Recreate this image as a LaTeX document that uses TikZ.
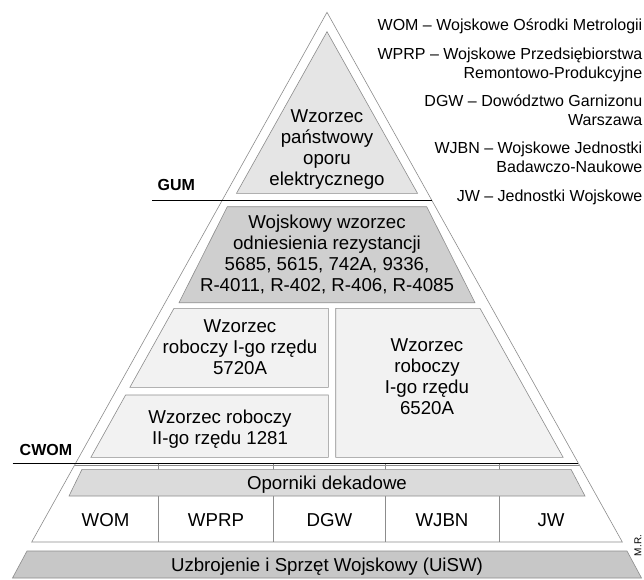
\documentclass[tikz,border=0pt]{standalone}
\usepackage{fontspec}
\setmainfont{Liberation Sans}
\usetikzlibrary{positioning}

\definecolor{edgegray}{gray}{0.55}
\definecolor{topfill}{gray}{0.90}
\definecolor{refill}{gray}{0.81}
\definecolor{workfill}{gray}{0.95}
\definecolor{decfill}{gray}{0.86}
\definecolor{basefill}{gray}{0.78}

\begin{document}
\begin{tikzpicture}[
  x=1pt, y=-1pt,
  tier/.style={draw=edgegray, line width=0.6pt},
  txt/.style={align=center, inner sep=0pt, font=\fontsize{18.67}{21}\selectfont},
  cell/.style={txt, anchor=base},
  legend/.style={anchor=base east, inner sep=0pt, font=\fontsize{16}{18.5}\selectfont},
  level/.style={anchor=base west, inner sep=0pt, font=\fontsize{16}{18.5}\selectfont\bfseries},
  rule/.style={line width=1.6pt}
]
\useasboundingbox[fill=white] (0,0) rectangle (644,579);

% pyramid outline
\draw[tier, fill=white] (327,12.3) -- (622.3,542) -- (31.7,542) -- cycle;
\draw[tier] (74.6,465) -- (579.4,465);
\foreach \xd in {158.5,273.5,385,499}
  \draw[tier] (\xd,463.3) -- (\xd,542);

% levels
\draw[tier, fill=topfill] (327,31.7) -- (417.5,193.3) -- (236.5,193.3) -- cycle;
\draw[tier, fill=refill] (227.3,206.7) -- (426.7,206.7) -- (475,302.7) -- (179,302.7) -- cycle;
\draw[tier, fill=workfill] (174,308.3) -- (328.3,308.3) -- (328.3,387.3) -- (129.9,387.3) -- cycle;
\draw[tier, fill=workfill] (125.6,395) -- (328.3,395) -- (328.3,457.3) -- (90.9,457.3) -- cycle;
\draw[tier, fill=workfill] (335.7,308.3) -- (480,308.3) -- (563.1,457.3) -- (335.7,457.3) -- cycle;
\draw[tier, fill=decfill] (82,469.3) -- (571,469.3) -- (585,496) -- (69,496) -- cycle;
\draw[tier, fill=basefill] (27,551) -- (627,551) -- (641.5,578) -- (12.5,578) -- cycle;

% GUM / CWOM
\draw[rule] (152,200.5) -- (431.7,200.5);
\draw[rule] (12.7,463.3) -- (578,463.3);
\node[level] (gum) at (157.5,190.7) {GUM};
\node[level] (cwom) at (19.5,455.7) {CWOM};

% texts in the pyramid
\node[txt] (panstw) at (327,149.9) {Wzorzec\\państwowy\\oporu\\elektrycznego};
\node[txt] (wojsk) at (327,254.8) {Wojskowy wzorzec\\odniesienia rezystancji\\5685, 5615, 742A, 9336,\\R-4011, R-402, R-406, R-4085};
\node[txt] (rob1) at (240,347.3) {Wzorzec\\roboczy I-go rzędu\\5720A};
\node[txt] (rob2) at (220,429.5) {Wzorzec roboczy\\II-go rzędu 1281};
\node[txt] (rob3) at (427,377) {Wzorzec\\roboczy\\I-go rzędu\\6520A};
\node[cell] (dekad) at (327,489.4) {Oporniki dekadowe};
\node[cell] (cwom1) at (105.5,526.7) {WOM};
\node[cell] (cwprp) at (216,526.7) {WPRP};
\node[cell] (cdgw) at (329.5,526.7) {DGW};
\node[cell] (cwjbn) at (442,526.7) {WJBN};
\node[cell] (cjw) at (551,526.7) {JW};
\node[cell] (uisw) at (327,571.2) {Uzbrojenie i Sprzęt Wojskowy (UiSW)};
\node[rotate=90, inner sep=0pt, font=\fontsize{10}{12}\selectfont] (autor) at (638,545.5) {M.R.};

% legend
\node[legend] (lwom) at (642.5,30) {WOM – Wojskowe Ośrodki Metrologii};
\node[legend] (lwprp) at (642.5,59.3) {WPRP – Wojskowe Przedsiębiorstwa};
\node[legend] (lwprpb) at (642.5,78.3) {Remontowo-Produkcyjne};
\node[legend] (ldgw) at (642.5,106.7) {DGW – Dowództwo Garnizonu};
\node[legend] (ldgwb) at (642.5,125) {Warszawa};
\node[legend] (lwjbn) at (642.5,153.3) {WJBN – Wojskowe Jednostki};
\node[legend] (lwjbnb) at (642.5,172.3) {Badawczo-Naukowe};
\node[legend] (ljw) at (642.5,201) {JW – Jednostki Wojskowe};
\end{tikzpicture}
\end{document}
